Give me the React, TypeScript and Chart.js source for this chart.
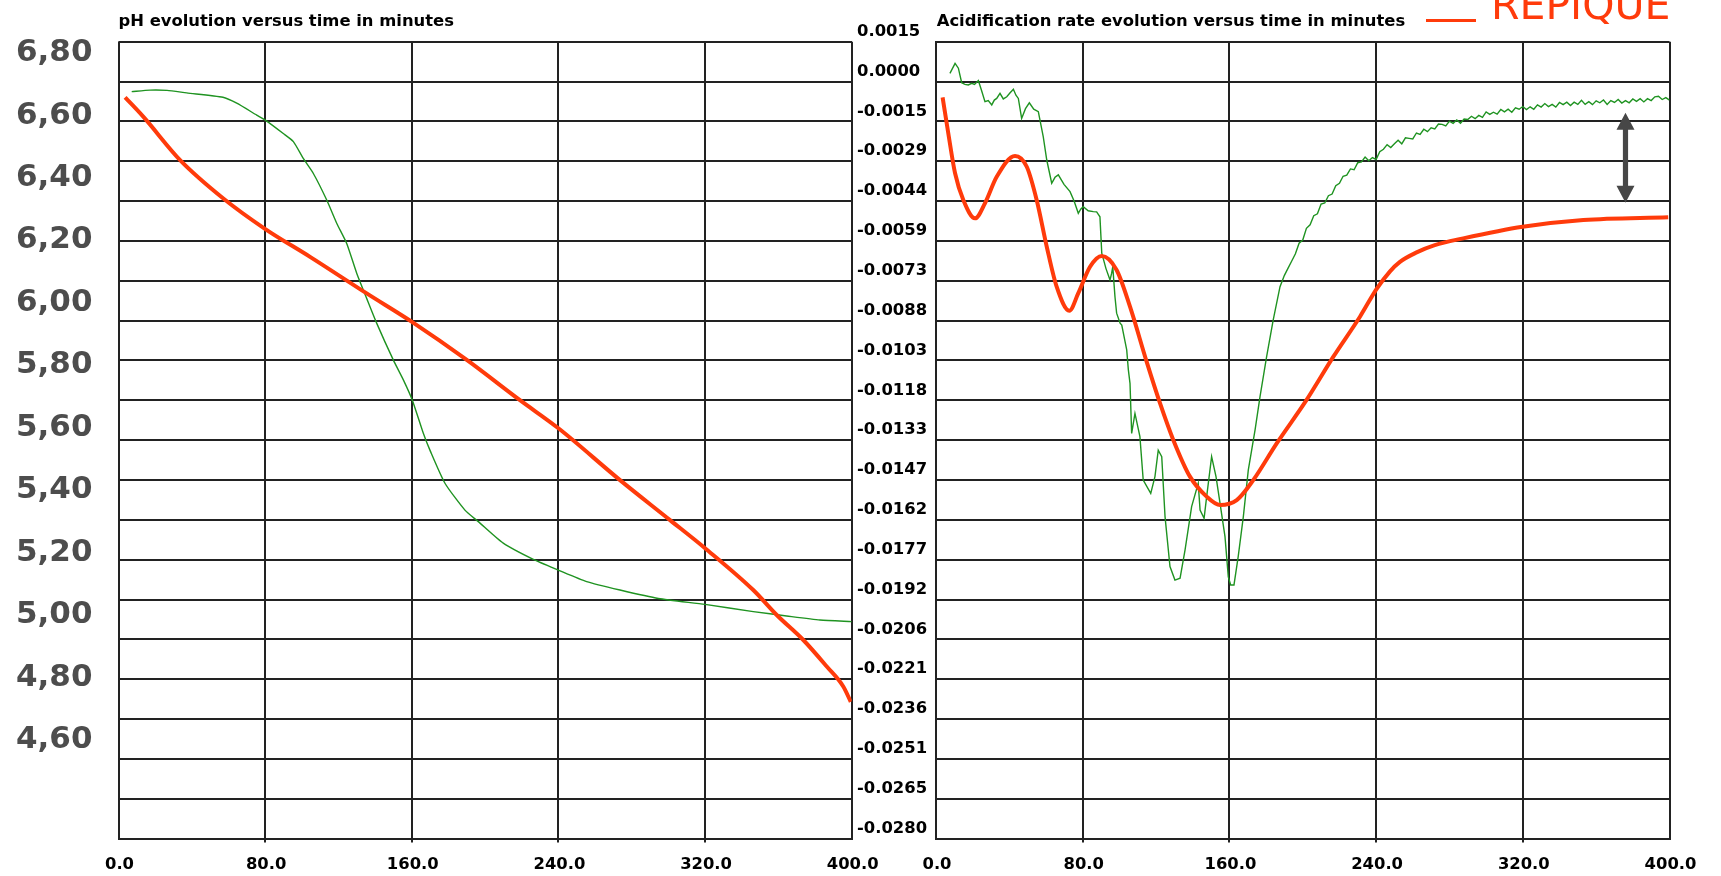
import React, { useEffect, useRef } from "react";
import { Chart, registerables } from "chart.js";

Chart.register(...registerables);

// ---- axes ----
const timeTicks = [0, 80, 160, 240, 320, 400];

const phTickLabels = ["6,80", "6,60", "6,40", "6,20", "6,00", "5,80", "5,60", "5,40", "5,20", "5,00", "4,80", "4,60"];
const phAxisMin = 4.278;
const phAxisMax = 6.83;

const rateTickLabels = [
  "0.0015", "0.0000", "-0.0015", "-0.0029", "-0.0044", "-0.0059", "-0.0073", "-0.0088", "-0.0103", "-0.0118",
  "-0.0133", "-0.0147", "-0.0162", "-0.0177", "-0.0192", "-0.0206", "-0.0221", "-0.0236", "-0.0251", "-0.0265", "-0.0280",
];
const rateAxisMax = 0.0015;
const rateAxisMin = -0.028;

// ---- pH panel ----
const phGreenTime = [7.2, 17.2, 26.5, 37.2, 57, 64.5, 75.4, 80.1, 89.9, 95.4, 100.8, 106.3, 113.6, 119.1, 124.5, 130, 135.4, 140.9, 149.9, 155.4, 160.3, 166.3, 169.9, 178.1, 189, 196.3, 209.9, 226.3, 239.9, 255.4, 273.6, 294.5, 320, 346.3, 364.5, 382.7, 400];
const phGreenValue = [6.67, 6.675, 6.674, 6.666, 6.652, 6.633, 6.595, 6.579, 6.536, 6.51, 6.456, 6.408, 6.323, 6.248, 6.184, 6.088, 6.008, 5.928, 5.811, 5.747, 5.682, 5.576, 5.522, 5.416, 5.33, 5.293, 5.224, 5.172, 5.138, 5.101, 5.074, 5.047, 5.028, 5.005, 4.991, 4.978, 4.973];

const phRedTime = [3.6, 13.5, 33.6, 57.2, 80.1, 104.5, 135.4, 160.3, 190, 219, 240, 273.6, 300.9, 320, 346.3, 359.1, 373.6, 386.4, 395.4, 399.5];
const phRedValue = [6.652, 6.59, 6.451, 6.328, 6.23, 6.141, 6.024, 5.932, 5.811, 5.682, 5.592, 5.426, 5.298, 5.208, 5.074, 4.994, 4.914, 4.829, 4.765, 4.716];

// ---- acidification rate panel ----
const rateGreenTime = [
  7.6, 10.4, 12.2, 14, 15.8, 17.6, 19.5, 21, 23.1, 24.8, 26.7, 28.5, 30.4, 31.8, 33.1, 34.9, 36.7, 38.6, 40.3, 42.2,
  43.6, 44.9, 46.7, 48.8, 50.9, 53.3, 55.8, 58.5, 60.4, 63.1, 64.9, 66.7, 69.8, 73.1, 75.3, 77.6, 78.9, 80.3, 83, 85.8,
  87.6, 89.4, 90.4, 92.7, 94.9, 95.8, 96.4, 97.6, 98.5, 100.4, 101.3, 104, 104.9, 105.8, 106.7, 108.5, 111.2, 113, 117.1, 119.4,
  121.2, 123.1, 124.9, 127.6, 130.3, 133.1, 135.8, 139.4, 143, 144, 146.2, 147.6, 150.3, 152.7, 154.9, 157.6, 159.4, 160.7, 162.5, 164.8,
  167.6, 170.3, 174, 176.7, 180.3, 183.9, 187.6, 190, 192, 194, 196, 198, 200, 202, 204, 206, 208, 210, 212, 214,
  216, 218, 220, 222, 224, 226, 228, 230, 232, 234, 236, 238, 240, 242, 244, 246, 248, 250, 252, 254,
  256, 258, 260, 262, 264, 266, 268, 270, 272, 274, 276, 278, 280, 282, 284, 286, 288, 290, 292, 294,
  296, 298, 300, 302, 304, 306, 308, 310, 312, 314, 316, 318, 320, 322, 324, 326, 328, 330, 332, 334,
  336, 338, 340, 342, 344, 346, 348, 350, 352, 354, 356, 358, 360, 362, 364, 366, 368, 370, 372, 374,
  376, 378, 380, 382, 384, 386, 388, 390, 392, 394, 396, 398, 400,
];
const rateGreenValue = [
  0.00033, 0.0007, 0.00052, -0.00002, -0.00008, -0.0001, -0.00004, -0.00008, 0.00006, -0.0003, -0.00072, -0.00068, -0.00084, -0.00066, -0.0006, -0.00041, -0.00062, -0.00054, -0.0004, -0.00026,
  -0.00048, -0.0006, -0.00134, -0.00098, -0.00076, -0.001, -0.00109, -0.00202, -0.00288, -0.00374, -0.00352, -0.00343, -0.00378, -0.00405, -0.0044, -0.00485, -0.0047, -0.00461, -0.00476, -0.00479,
  -0.0048, -0.00498, -0.00633, -0.0069, -0.00732, -0.00707, -0.00683, -0.00794, -0.00855, -0.00892, -0.00899, -0.00991, -0.01065, -0.01115, -0.013, -0.01226, -0.01312, -0.01473, -0.01522, -0.0146,
  -0.01362, -0.01386, -0.01608, -0.01793, -0.01843, -0.01836, -0.01732, -0.01571, -0.01485, -0.01584, -0.01614, -0.01534, -0.01386, -0.0146, -0.01559, -0.01682, -0.01831, -0.01861, -0.01861, -0.01756,
  -0.01608, -0.01436, -0.01287, -0.01164, -0.01016, -0.0088, -0.00757, -0.00715, -0.00688, -0.00662, -0.00635, -0.00596, -0.00584, -0.00541, -0.00528, -0.00494, -0.00487, -0.00451, -0.00447, -0.0042,
  -0.00414, -0.00383, -0.00374, -0.00348, -0.00344, -0.00321, -0.00324, -0.00298, -0.00295, -0.00277, -0.00291, -0.00279, -0.00286, -0.00257, -0.00248, -0.00231, -0.00242, -0.00228, -0.00215, -0.00228,
  -0.00206, -0.00208, -0.0021, -0.00188, -0.00193, -0.00174, -0.00183, -0.00169, -0.00173, -0.00155, -0.00156, -0.00162, -0.00144, -0.00152, -0.0014, -0.00152, -0.00136, -0.00138, -0.00126, -0.00135,
  -0.00123, -0.0013, -0.0011, -0.00119, -0.00111, -0.00118, -0.00101, -0.0011, -0.001, -0.00111, -0.00095, -0.001, -0.0009, -0.00101, -0.00091, -0.001, -0.00084, -0.00092, -0.00079, -0.0009,
  -0.00082, -0.00092, -0.00075, -0.00083, -0.00074, -0.00086, -0.00074, -0.00082, -0.00067, -0.00082, -0.00072, -0.00083, -0.00069, -0.00076, -0.00066, -0.00082, -0.00068, -0.00075, -0.00064, -0.00077,
  -0.00068, -0.00076, -0.00062, -0.00071, -0.00061, -0.00073, -0.00061, -0.00068, -0.00054, -0.00052, -0.00064, -0.00057, -0.00066,
];

const rateRedTime = [3.6, 6.7, 10.4, 14.9, 21.3, 26.7, 33.1, 43.1, 49.5, 54.9, 60.4, 65.8, 72.7, 77.6, 84, 90.4, 98.5, 105.8, 114.9, 122.2, 129.4, 138.5, 147.6, 154.9, 164, 173, 185.8, 202.1, 216.7, 231.2, 240.3, 247.6, 253, 262.1, 272, 287.5, 319.9, 353, 399.3];
const rateRedValue = [-0.00056, -0.00189, -0.00337, -0.00436, -0.00504, -0.00448, -0.0035, -0.00273, -0.00313, -0.00436, -0.00609, -0.00757, -0.00846, -0.00781, -0.00683, -0.00643, -0.00695, -0.00831, -0.01035, -0.01189, -0.01324, -0.0146, -0.01534, -0.01565, -0.01547, -0.01473, -0.01337, -0.01176, -0.01016, -0.00868, -0.00765, -0.007, -0.00665, -0.0063, -0.00603, -0.00578, -0.00535, -0.0051, -0.005];

// gap marker between the two plateaus
const gapArrowTime = 376;
const gapArrowValues = [-0.00113, -0.00446];

const legendLabel = "REPIQUE";
const phTitle = "pH evolution versus time in minutes";
const rateTitle = "Acidification rate evolution versus time in minutes";

// ---- styles ----
const RED = "#ff3b0b";
const GREEN = "#1f9321";
const GRID = "#222222";
const TICK_FONT = { family: "'DejaVu Sans'", weight: "bold" as const, size: 16.4 };

const toPoints = (xs: number[], ys: number[]) => xs.map((x, i) => ({ x, y: ys[i] }));

// keep tick labels from pushing the plot area inwards
const noLabelPadding = (scale: any) => {
  scale.paddingLeft = 0;
  scale.paddingRight = 0;
  scale.paddingTop = 0;
  scale.paddingBottom = 0;
};

const xScale = (height: number) => ({
  type: "linear" as const,
  position: "bottom" as const,
  min: 0,
  max: 400,
  afterBuildTicks: (scale: any) => {
    scale.ticks = timeTicks.map((v) => ({ value: v }));
  },
  afterFit: (scale: any) => {
    scale.height = height;
    noLabelPadding(scale);
  },
  grid: {
    color: GRID,
    lineWidth: 2,
    tickLength: 4,
    tickColor: (c: any) => (c.tick && (c.tick.value === 0 || c.tick.value === 400) ? "rgba(0,0,0,0)" : GRID),
  },
  border: { display: true, color: GRID, width: 2 },
  ticks: {
    font: TICK_FONT,
    color: "#000",
    padding: 12,
    maxRotation: 0,
    autoSkip: false,
    labelOffset: 1,
    callback: (v: any) => Number(v).toFixed(1),
  },
});

const titlePlugin = (id: string, text: string, x: number) => ({
  id,
  afterDraw(chart: any) {
    const ctx = chart.ctx;
    ctx.save();
    ctx.font = "bold 16.4px 'DejaVu Sans'";
    ctx.fillStyle = "#000";
    ctx.textBaseline = "alphabetic";
    ctx.textAlign = "left";
    ctx.fillText(text, x, 26);
    ctx.restore();
  },
});

function PhChart() {
  const ref = useRef<HTMLCanvasElement>(null);
  useEffect(() => {
    const chart = new Chart(ref.current!, {
      type: "line",
      data: {
        datasets: [
          {
            data: toPoints(phRedTime, phRedValue),
            borderColor: RED,
            borderWidth: 4,
            pointRadius: 0,
            cubicInterpolationMode: "monotone",
            yAxisID: "y",
          },
          {
            data: toPoints(phGreenTime, phGreenValue),
            borderColor: GREEN,
            borderWidth: 1.4,
            pointRadius: 0,
            tension: 0.2,
            yAxisID: "y",
          },
        ],
      },
      options: {
        animation: false,
        responsive: false,
        devicePixelRatio: 1,
        layout: { padding: { top: 41.7, right: 28.3, left: 0, bottom: 0 } },
        plugins: { legend: { display: false }, tooltip: { enabled: false }, title: { display: false } },
        scales: {
          x: xScale(37.4),
          y: {
            type: "linear",
            position: "left",
            min: phAxisMin,
            max: phAxisMax,
            afterBuildTicks: (scale: any) => {
              scale.ticks = phTickLabels.map((l) => ({ value: parseFloat(l.replace(",", ".")) }));
            },
            afterFit: (scale: any) => {
              scale.width = 118.5;
              noLabelPadding(scale);
            },
            grid: { display: false, drawTicks: false },
            border: { display: false },
            ticks: {
              font: { family: "'DejaVu Sans'", weight: "bold", size: 31 },
              color: "#4d4d4d",
              padding: 26,
              labelOffset: 2,
              callback: (v: any) => Number(v).toFixed(2).replace(".", ","),
            },
          },
          yg: {
            type: "linear",
            position: "right",
            min: 0,
            max: 20,
            afterBuildTicks: (scale: any) => {
              scale.ticks = rateTickLabels.map((_, i) => ({ value: i }));
            },
            afterFit: (scale: any) => {
              scale.width = 0;
              noLabelPadding(scale);
            },
            grid: { color: GRID, lineWidth: 2, drawTicks: false },
            border: { display: false },
            ticks: { display: false },
          },
        },
      },
      plugins: [titlePlugin("phTitle", phTitle, 118.5)],
    } as any);
    return () => chart.destroy();
  }, []);
  return (
    <canvas
      ref={ref}
      width={880}
      height={876}
      style={{ position: "absolute", left: 0, top: 0, width: 880, height: 876 }}
    />
  );
}

function RateChart() {
  const ref = useRef<HTMLCanvasElement>(null);
  useEffect(() => {
    const step = (rateAxisMax - rateAxisMin) / (rateTickLabels.length - 1);
    const arrowPlugin = {
      id: "gapArrow",
      afterDatasetsDraw(chart: any) {
        const ctx = chart.ctx;
        const x = chart.scales.x.getPixelForValue(gapArrowTime);
        const top = chart.scales.y.getPixelForValue(gapArrowValues[0]);
        const bottom = chart.scales.y.getPixelForValue(gapArrowValues[1]);
        const hw = 9;
        const hl = 17;
        const sw = 2.6;
        ctx.save();
        ctx.fillStyle = "#474747";
        ctx.beginPath();
        ctx.moveTo(x, top);
        ctx.lineTo(x + hw, top + hl);
        ctx.lineTo(x + sw, top + hl);
        ctx.lineTo(x + sw, bottom - hl);
        ctx.lineTo(x + hw, bottom - hl);
        ctx.lineTo(x, bottom);
        ctx.lineTo(x - hw, bottom - hl);
        ctx.lineTo(x - sw, bottom - hl);
        ctx.lineTo(x - sw, top + hl);
        ctx.lineTo(x - hw, top + hl);
        ctx.closePath();
        ctx.fill();
        ctx.restore();
      },
    };
    const legendPlugin = {
      id: "repiqueLegend",
      afterDraw(chart: any) {
        const ctx = chart.ctx;
        ctx.save();
        ctx.strokeStyle = RED;
        ctx.lineWidth = 3;
        ctx.beginPath();
        ctx.moveTo(570, 20.5);
        ctx.lineTo(620, 20.5);
        ctx.stroke();
        ctx.fillStyle = RED;
        ctx.font = "41px 'DejaVu Sans'";
        ctx.textAlign = "left";
        ctx.textBaseline = "alphabetic";
        ctx.fillText(legendLabel, 635, 18.5);
        ctx.restore();
      },
    };
    const chart = new Chart(ref.current!, {
      type: "line",
      data: {
        datasets: [
          {
            data: toPoints(rateRedTime, rateRedValue),
            borderColor: RED,
            borderWidth: 4,
            pointRadius: 0,
            cubicInterpolationMode: "monotone",
          },
          {
            data: toPoints(rateGreenTime, rateGreenValue),
            borderColor: GREEN,
            borderWidth: 1.4,
            pointRadius: 0,
            tension: 0,
          },
        ],
      },
      options: {
        animation: false,
        responsive: false,
        devicePixelRatio: 1,
        layout: { padding: { top: 41.7, right: 51.5, left: 1, bottom: 0 } },
        plugins: { legend: { display: false }, tooltip: { enabled: false }, title: { display: false } },
        scales: {
          x: xScale(37.4),
          y: {
            type: "linear",
            position: "left",
            min: rateAxisMin,
            max: rateAxisMax,
            afterBuildTicks: (scale: any) => {
              scale.ticks = rateTickLabels.map((_, i) => ({ value: rateAxisMax - i * step }));
            },
            afterFit: (scale: any) => {
              scale.width = 79;
              noLabelPadding(scale);
            },
            grid: { color: GRID, lineWidth: 2, drawTicks: false },
            border: { display: true, color: GRID, width: 2 },
            ticks: {
              font: TICK_FONT,
              color: "#000",
              crossAlign: "far",
              labelOffset: -10,
              padding: 0,
              autoSkip: false,
              callback: (_v: any, i: number) => rateTickLabels[i],
            },
          },
        },
      },
      plugins: [titlePlugin("rateTitle", rateTitle, 80.7), arrowPlugin, legendPlugin],
    } as any);
    return () => chart.destroy();
  }, []);
  return (
    <canvas
      ref={ref}
      width={865}
      height={876}
      style={{ position: "absolute", left: 856, top: 0, width: 865, height: 876 }}
    />
  );
}

export default function App() {
  return (
    <div
      style={{
        position: "fixed",
        left: 0,
        top: 0,
        width: 1721,
        height: 876,
        background: "#ffffff",
        overflow: "hidden",
      }}
    >
      <PhChart />
      <RateChart />
    </div>
  );
}
